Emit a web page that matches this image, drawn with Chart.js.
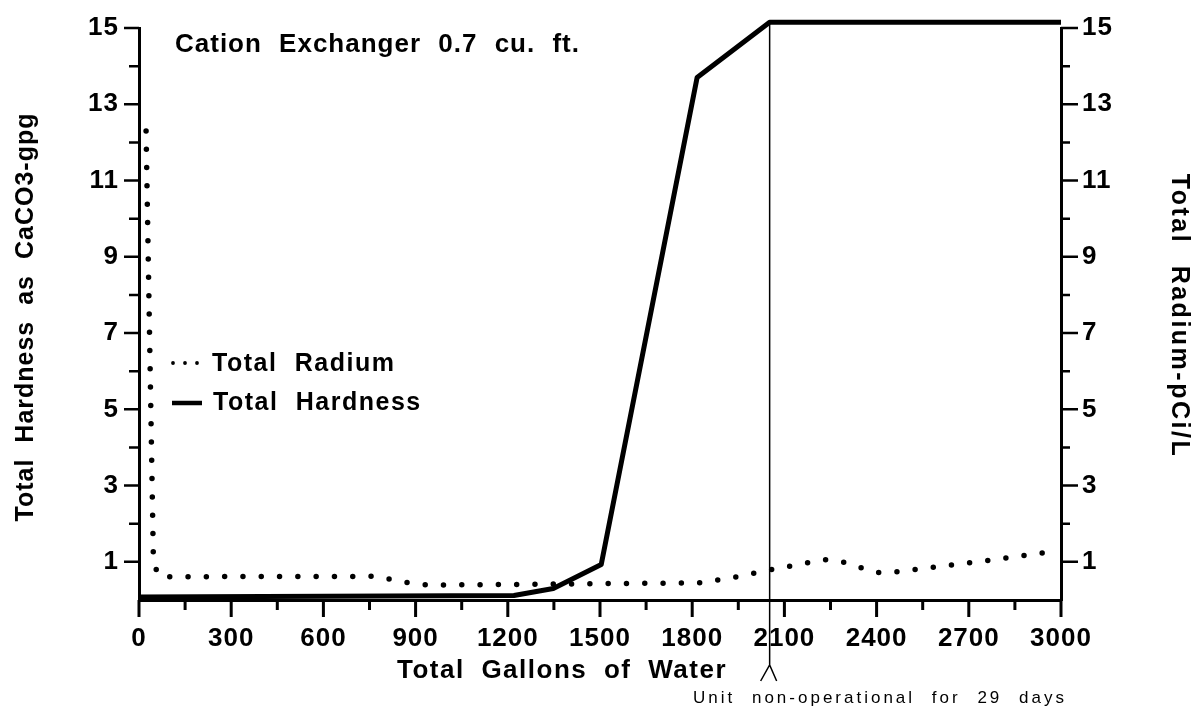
<!DOCTYPE html>
<html>
<head>
<meta charset="utf-8">
<script src="https://cdn.jsdelivr.net/npm/chart.js@4.4.1/dist/chart.umd.min.js"></script>
<style>
  html, body { margin: 0; padding: 0; background: #fff; }
</style>
</head>
<body>
<canvas id="chart" width="1197" height="710"></canvas>
<script>
// Total hardness (solid line, left axis)
const hardGallons = [0, 1220, 1348, 1504, 1816, 2052, 3000];
const hardness    = [0.08, 0.12, 0.3, 0.93, 13.7, 15.15, 15.15];

// Total radium (dotted line, right axis)
const radGallons = [23, 47, 66, 771, 830, 884, 944, 1823, 1940, 2054, 2171, 2230, 2286, 2343, 2399, 2454, 2574, 2750, 2983];
const radium     = [12.3, 0.97, 0.61, 0.62, 0.52, 0.44, 0.39, 0.45, 0.6, 0.79, 0.97, 1.06, 1.01, 0.86, 0.72, 0.73, 0.85, 1.02, 1.28];

// axis ticks and labels
const xMax = 3000, xStep = 150, xLabelStep = 300;
const yMax = 15;
const yLabels = [1, 3, 5, 7, 9, 11, 13, 15];

// marker for the shutdown
const noteGallons = 2052;
const noteText = 'Unit non-operational for 29 days';

const FONT = "'Liberation Sans', Arial, Helvetica, sans-serif";

function setFont(ctx, size, weight, ls, ws) {
  ctx.font = weight + ' ' + size + 'px ' + FONT;
  ctx.letterSpacing = ls + 'px';
  ctx.wordSpacing = ws + 'px';
}

const decor = {
  id: 'decor',
  beforeDraw(chart) {
    chart.ctx.letterSpacing = '1px';
  },
  afterDraw(chart) {
    const ctx = chart.ctx;
    const a = chart.chartArea;
    const sx = chart.scales.x, sy = chart.scales.y;
    ctx.save();
    ctx.strokeStyle = '#000';
    ctx.fillStyle = '#000';

    // x tick marks (longer at labelled values)
    ctx.lineWidth = 3;
    ctx.beginPath();
    for (let v = 0; v <= xMax; v += xStep) {
      const px = sx.getPixelForValue(v);
      ctx.moveTo(px, a.bottom);
      ctx.lineTo(px, a.bottom + (v % xLabelStep === 0 ? 17 : 10));
    }
    ctx.stroke();

    // y tick marks, both sides
    ctx.lineWidth = 2.5;
    ctx.beginPath();
    for (let v = 1; v <= yMax; v++) {
      const py = sy.getPixelForValue(v);
      const major = yLabels.includes(v);
      ctx.moveTo(a.left - (major ? 15 : 10), py);
      ctx.lineTo(a.left, py);
      ctx.moveTo(a.right, py);
      ctx.lineTo(a.right + (major ? 17 : 9), py);
    }
    ctx.stroke();

    // chart title
    setFont(ctx, 26, 'bold', 1, 9);
    ctx.textAlign = 'left';
    ctx.textBaseline = 'alphabetic';
    ctx.fillText('Cation Exchanger 0.7 cu. ft.', 175, 52);

    // legend
    ctx.beginPath();
    [173, 185, 197].forEach(cx => {
      ctx.moveTo(cx + 1.9, 363);
      ctx.arc(cx, 363, 1.9, 0, Math.PI * 2);
    });
    ctx.fill();
    ctx.lineWidth = 4.5;
    ctx.beginPath();
    ctx.moveTo(172, 403);
    ctx.lineTo(202, 403);
    ctx.stroke();
    setFont(ctx, 25, 'bold', 1.5, 9);
    ctx.fillText('Total Radium', 212, 371);
    ctx.fillText('Total Hardness', 213, 410);

    // axis titles
    setFont(ctx, 26, 'bold', 1.5, 8);
    ctx.textAlign = 'center';
    ctx.fillText('Total Gallons of Water', 562, 678);

    setFont(ctx, 25, 'bold', 1, 8);
    ctx.save();
    ctx.translate(33, 317);
    ctx.rotate(-Math.PI / 2);
    ctx.fillText('Total Hardness as CaCO3-gpg', 0, 0);
    ctx.restore();

    setFont(ctx, 25, 'bold', 2.5, 12);
    ctx.save();
    ctx.translate(1172, 316);
    ctx.rotate(Math.PI / 2);
    ctx.fillText('Total Radium-pCi/L', 0, 0);
    ctx.restore();

    // shutdown marker line with arrow head and note
    const nx = sx.getPixelForValue(noteGallons);
    ctx.lineWidth = 1.5;
    ctx.beginPath();
    ctx.moveTo(nx, sy.getPixelForValue(15.15));
    ctx.lineTo(nx, 665);
    ctx.moveTo(nx - 9, 681);
    ctx.lineTo(nx, 665);
    ctx.lineTo(nx + 7, 681);
    ctx.stroke();

    setFont(ctx, 17, 'normal', 3, 9);
    ctx.textAlign = 'left';
    ctx.fillText(noteText, 693, 703);

    ctx.restore();
  }
};

const tickFont = { family: FONT, size: 26, weight: 'bold' };

const chart = new Chart(document.getElementById('chart'), {
  type: 'line',
  data: {
    datasets: [
      {
        label: 'Total Radium',
        data: radGallons.map((g, i) => ({ x: g, y: radium[i] })),
        yAxisID: 'y2',
        borderColor: '#000',
        borderWidth: 5.5,
        borderDash: [0, 18.3],
        borderCapStyle: 'round',
        pointRadius: 0,
        tension: 0,
        fill: false,
        clip: false
      },
      {
        label: 'Total Hardness',
        data: hardGallons.map((g, i) => ({ x: g, y: hardness[i] })),
        yAxisID: 'y',
        borderColor: '#000',
        borderWidth: 5,
        borderJoinStyle: 'round',
        pointRadius: 0,
        tension: 0,
        fill: false,
        clip: false
      }
    ]
  },
  options: {
    responsive: false,
    animation: false,
    events: [],
    layout: { padding: { top: 28, left: 0, right: 0, bottom: 0 } },
    plugins: {
      legend: { display: false },
      title: { display: false },
      tooltip: { enabled: false }
    },
    scales: {
      x: {
        type: 'linear',
        min: 0,
        max: xMax,
        grid: { display: false, drawTicks: false },
        border: { display: true, color: '#000', width: 3 },
        ticks: {
          stepSize: xStep,
          autoSkip: false,
          minRotation: 0,
          maxRotation: 0,
          padding: 23,
          color: '#000',
          font: tickFont,
          callback: v => (v % xLabelStep === 0 ? String(v) : '')
        },
        afterFit: s => { s.height = 110; }
      },
      y: {
        position: 'left',
        min: 0,
        max: yMax,
        grid: { display: false, drawTicks: false },
        border: { display: true, color: '#000', width: 3 },
        ticks: {
          stepSize: 1,
          autoSkip: false,
          padding: 20,
          color: '#000',
          font: tickFont,
          callback: v => (yLabels.includes(v) ? String(v) : '')
        },
        afterFit: s => { s.width = 139; s.paddingTop = 0; s.paddingBottom = 0; }
      },
      y2: {
        position: 'right',
        min: 0,
        max: yMax,
        grid: { display: false, drawTicks: false },
        border: { display: true, color: '#000', width: 3 },
        ticks: {
          stepSize: 1,
          autoSkip: false,
          padding: 21,
          color: '#000',
          font: tickFont,
          callback: v => (yLabels.includes(v) ? String(v) : '')
        },
        afterFit: s => { s.width = 136; s.paddingTop = 0; s.paddingBottom = 0; }
      }
    }
  },
  plugins: [decor]
});
</script>
</body>
</html>
